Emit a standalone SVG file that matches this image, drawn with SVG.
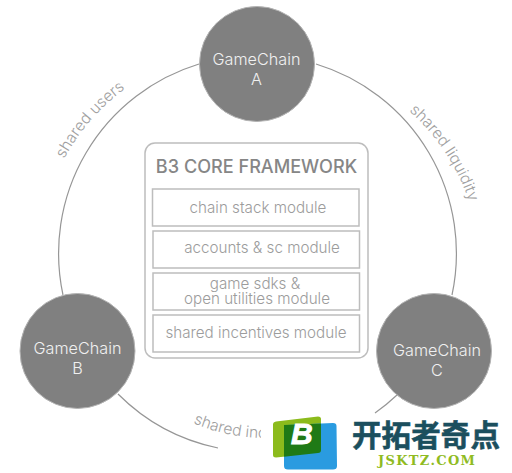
<svg xmlns="http://www.w3.org/2000/svg" width="512" height="473" viewBox="0 0 512 473">
<style>
text{font-family:"Inter","Liberation Sans",sans-serif}
.arc{fill:none;stroke:#969696;stroke-width:1.2}
.node{fill:#808080;stroke:#b4b4b4;stroke-width:1}
.nl{fill:#f0f0f0;font-size:16.2px;font-weight:300;text-anchor:middle}
.lab{fill:#a0a0a0;font-size:15.6px;font-weight:300}
.box{fill:#fff;stroke:#bdbdbd;stroke-width:1.5}
.m{fill:#9c9c9c;font-size:15.2px;font-weight:300;text-anchor:middle}
</style>
<defs>
<path id="pu" d="M64,159 A211,211 0 0 1 132,84"/>
<path id="pl" d="M409,111 A205,205 0 0 1 474,220"/>
<path id="pb" d="M193,423 A183,183 0 0 0 266,438"/>
<clipPath id="ov"><path d="M284,425 L336,423 Q337,423 337,426 L337,469 L284,469 Z"/></clipPath>
<clipPath id="cut"><rect x="180" y="405" width="81" height="40"/></clipPath>
</defs>
<rect width="512" height="473" fill="#fff"/>
<g id="connectors">
<path class="arc" d="M199,64 A198,198 0 0 0 63,295"/>
<path class="arc" d="M316,64 A198,198 0 0 1 452,295"/>
<path class="arc" d="M118,394 A198,198 0 0 0 218,448"/>
<path class="arc" d="M375,413 A198,198 0 0 0 397,395"/>
</g>
<g id="edge-labels">
<text class="lab"><textPath href="#pu">shared users</textPath></text>
<text class="lab"><textPath href="#pl">shared liquidity</textPath></text>
<g clip-path="url(#cut)"><text class="lab"><textPath href="#pb">shared inc</textPath></text></g>
</g>
<g id="node-a"><circle class="node" cx="257" cy="64" r="57.5"/><text class="nl" x="256.500" y="65">GameChain</text><text class="nl" x="256.500" y="85">A</text></g>
<g id="node-b"><circle class="node" cx="77.5" cy="351" r="57.5"/><text class="nl" x="77.5" y="354">GameChain</text><text class="nl" x="77.5" y="374">B</text></g>
<g id="node-c"><circle class="node" cx="434" cy="351" r="57.5"/><text class="nl" x="437" y="356">GameChain</text><text class="nl" x="437" y="376">C</text></g>
<g id="framework">
<rect x="145" y="143" width="223" height="215" rx="10" fill="#fff" stroke="#bdbdbd" stroke-width="1.5"/>
<text x="256.500" y="173" fill="#868686" font-size="18.100" font-weight="500" text-anchor="middle">B3 CORE FRAMEWORK</text>
</g>
<g id="module-chain"><rect class="box" x="152.500" y="189" width="206.500" height="37"/><text class="m" x="258" y="213">chain stack module</text></g>
<g id="module-accounts"><rect class="box" x="153" y="231" width="206.500" height="37"/><text class="m" x="262" y="253">accounts &amp; sc module</text></g>
<g id="module-sdks"><rect class="box" x="153" y="273" width="206.500" height="37"/><text class="m" x="255" y="289">game sdks &amp;</text><text class="m" x="257" y="304">open utilities module</text></g>
<g id="module-incentives"><rect class="box" x="153" y="315" width="206.500" height="37"/><text class="m" x="256" y="338">shared incentives module</text></g>
<g id="watermark">
<path d="M276,421.500 L318,416.500 Q321,416.500 321,419 L321,450 Q321,453 318,453 L276,457.500 Q273,457.500 273,455 L273,424.500 Q273,422 276,421.500 Z" fill="#8cbb1c"/>
<path d="M287,425 L333,423 Q336.500,423 336.500,426 L337,466 Q337,469.500 333,469.500 L288,469.500 Q284,469.500 284,466 L284,428 Q284,425 287,425 Z" fill="#2a9be0"/>
<path clip-path="url(#ov)" d="M276,421.500 L318,416.500 Q321,416.500 321,419 L321,450 Q321,453 318,453 L276,457.500 Q273,457.500 273,455 L273,424.500 Q273,422 276,421.500 Z" fill="#1f7a16"/>
<text x="291" y="443.500" fill="#fff" stroke="#fff" stroke-width="1" font-size="30" font-weight="700" font-style="italic" style="font-family:'Liberation Sans',sans-serif">B</text>
<text x="352" y="446" fill="#1b4f5e" stroke="#1b4f5e" stroke-width="0.6" font-size="29.500" font-weight="700" textLength="148" style="font-family:'Noto Sans CJK SC',sans-serif">开拓者奇点</text>
<text x="378" y="465" fill="#8fbb22" font-size="13" font-weight="700" textLength="97" style="font-family:'DejaVu Serif',serif">JSKTZ.COM</text>
</g>
</svg>
